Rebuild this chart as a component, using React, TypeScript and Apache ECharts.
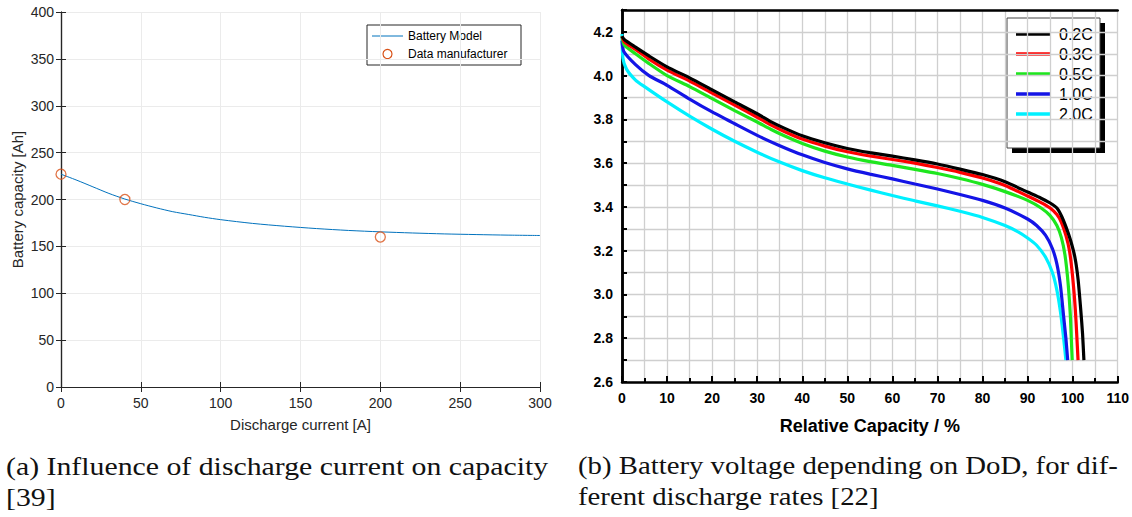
import React, { useEffect, useRef } from "react";
import * as echarts from "echarts";

// ---- (a) capacity vs discharge current ----
const currentA = [0, 10, 20, 30, 40, 50, 60, 70, 80, 90, 100, 120, 140, 160, 180, 200, 220, 240, 260, 280, 300];
const capacityModelAh = [227, 220.5, 213.5, 206.5, 200.5, 195.5, 191, 187, 184, 181, 178.5, 174.5, 171.5, 169, 167, 165.5, 164.3, 163.3, 162.6, 162, 161.6];
const mfrCurrentA = [0, 40, 200];
const mfrCapacityAh = [227, 200, 160];

// ---- (b) voltage vs relative capacity for several C-rates ----
const rateNames = ["0.2C", "0.3C", "0.5C", "1.0C", "2.0C"];
const rateColors = ["#000000", "#ff0000", "#1ee61e", "#1414e6", "#00f0ff"];

const curve02C: number[][] = [
  [0, 4.18], [0.5, 4.165], [3, 4.13], [6, 4.09], [10, 4.04], [15, 3.99], [20, 3.935], [25, 3.88],
  [30, 3.826], [33, 3.79], [36, 3.76], [40, 3.725], [45, 3.693], [50, 3.667], [55, 3.648], [60, 3.632],
  [65, 3.615], [70, 3.596], [75, 3.573], [80, 3.548], [85, 3.515], [90, 3.468], [93, 3.44], [95, 3.418],
  [96.5, 3.395], [97.5, 3.36], [98.5, 3.31], [99.5, 3.25], [100.5, 3.17], [101.2, 3.07], [101.8, 2.93],
  [102.2, 2.82], [102.5, 2.7],
];
const curve03C: number[][] = [
  [0, 4.18], [0.5, 4.155], [3, 4.12], [6, 4.075], [10, 4.025], [15, 3.975], [20, 3.92], [25, 3.865],
  [30, 3.81], [33, 3.775], [36, 3.745], [40, 3.71], [45, 3.678], [50, 3.652], [55, 3.633], [60, 3.617],
  [65, 3.6], [70, 3.58], [75, 3.558], [80, 3.532], [85, 3.498], [90, 3.45], [93, 3.42], [95, 3.395],
  [96.5, 3.365], [97.5, 3.33], [98.5, 3.27], [99.3, 3.2], [100, 3.08], [100.6, 2.93], [100.9, 2.82], [101.2, 2.7],
];
const curve05C: number[][] = [
  [0, 4.18], [0.5, 4.14], [3, 4.1], [6, 4.055], [10, 4.0], [15, 3.95], [20, 3.895], [25, 3.84],
  [30, 3.788], [33, 3.755], [36, 3.725], [40, 3.69], [45, 3.655], [50, 3.628], [55, 3.607], [60, 3.59],
  [65, 3.572], [70, 3.553], [75, 3.53], [80, 3.503], [85, 3.47], [90, 3.43], [93, 3.395], [95, 3.36],
  [96.5, 3.315], [97.5, 3.26], [98.3, 3.18], [99, 3.05], [99.5, 2.9], [99.7, 2.8], [99.9, 2.7],
];
const curve10C: number[][] = [
  [0, 4.16], [0.4, 4.11], [3, 4.05], [6, 4.0], [10, 3.956], [15, 3.893], [20, 3.834], [25, 3.78],
  [30, 3.727], [35, 3.68], [40, 3.638], [45, 3.603], [50, 3.574], [55, 3.55], [60, 3.528], [65, 3.505],
  [70, 3.482], [75, 3.457], [80, 3.43], [85, 3.395], [90, 3.345], [92, 3.315], [94, 3.27], [95.5, 3.21],
  [96.5, 3.14], [97.3, 3.04], [98, 2.9], [98.5, 2.8], [98.9, 2.7],
];
const curve20C: number[][] = [
  [0, 4.19], [0.2, 4.08], [1, 4.03], [3, 3.98], [5, 3.95], [10, 3.88], [15, 3.815], [20, 3.755],
  [25, 3.7], [30, 3.65], [35, 3.605], [40, 3.566], [45, 3.533], [50, 3.505], [55, 3.478], [60, 3.452],
  [65, 3.428], [70, 3.405], [75, 3.38], [80, 3.352], [85, 3.315], [88, 3.285], [90, 3.258], [92, 3.225],
  [94, 3.17], [95.5, 3.1], [96.5, 3.02], [97.3, 2.92], [98, 2.8], [98.5, 2.7],
];
const rateCurves = [curve02C, curve03C, curve05C, curve10C, curve20C];

// captions
const captionA = ["(a) Influence of discharge current on capacity", "[39]"];
const captionB = ["(b) Battery voltage depending on DoD, for dif-", "ferent discharge rates [22]"];

const SANS = "Liberation Sans";
const SERIF = "Liberation Serif";
const MATLAB_AXIS = "#262626";

function textScale(text: string, size: number, family: string, target: number): number {
  const ctx = document.createElement("canvas").getContext("2d");
  if (!ctx) return 1;
  ctx.font = `${size}px "${family}"`;
  const w = ctx.measureText(text).width;
  return w > 0 ? target / w : 1;
}

export default function App() {
  const ref = useRef<HTMLDivElement>(null);

  useEffect(() => {
    if (!ref.current) return;
    const chart = echarts.init(ref.current, undefined, { renderer: "svg" });

    const capSize = 25;
    const sA = textScale(captionA[0], capSize, SERIF, 542);
    const sB = textScale(captionB[0], capSize, SERIF, 540);

    const capText = (text: string, x: number, y: number, s: number) => ({
      type: "text",
      x,
      y,
      scaleX: s,
      style: {
        text,
        fontFamily: SERIF,
        fontSize: capSize,
        fill: "#111",
        align: "left",
        verticalAlign: "middle",
      },
    });

    const sansText = (text: string, x: number, y: number, size: number) => ({
      type: "text",
      x,
      y,
      style: { text, fontFamily: SANS, fontSize: size, fill: "#000", align: "left", verticalAlign: "middle" },
    });

    // left legend
    const legendA = [
      { type: "rect", shape: { x: 367, y: 25, width: 154, height: 40 }, style: { fill: "#fff", stroke: "#262626", lineWidth: 1 } },
      { type: "line", shape: { x1: 372, y1: 36, x2: 403, y2: 36 }, style: { stroke: "#0072BD", lineWidth: 1 } },
      { type: "circle", shape: { cx: 387.5, cy: 54, r: 4.5 }, style: { fill: "none", stroke: "#D95319", lineWidth: 1.2 } },
      sansText("Battery Model", 408, 36, 12),
      sansText("Data manufacturer", 408, 54, 12),
    ];

    // right legend with drop shadow
    const legendB: any[] = [
      { type: "rect", shape: { x: 1012, y: 23, width: 93, height: 130 }, style: { fill: "#000" } },
      { type: "rect", shape: { x: 1007, y: 18, width: 93, height: 130 }, style: { fill: "#fff", stroke: "#444", lineWidth: 1 } },
    ];
    rateNames.forEach((name, i) => {
      const y = 34 + i * 20;
      legendB.push({ type: "line", shape: { x1: 1016, y1: y, x2: 1050, y2: y }, style: { stroke: rateColors[i], lineWidth: 3.5 } });
      legendB.push(sansText(name, 1059, y, 16));
    });

    const rightGridLine = { lineStyle: { color: "#cfcfcf", width: 1.3 } };

    chart.setOption({
      animation: false,
      backgroundColor: "#ffffff",
      grid: [
        { left: 61, top: 12, width: 479, height: 375 },
        { left: 622, top: 10, width: 497, height: 372 },
      ],
      xAxis: [
        {
          gridIndex: 0, type: "value", min: 0, max: 300, interval: 50, position: "bottom",
          axisLine: { lineStyle: { color: MATLAB_AXIS, width: 1.2 } },
          axisTick: { inside: true, length: 5, lineStyle: { color: MATLAB_AXIS } },
          axisLabel: { color: MATLAB_AXIS, fontFamily: SANS, fontSize: 14, margin: 9 },
          splitLine: { lineStyle: { color: "#ebebeb", width: 1 } },
          name: "Discharge current [A]", nameLocation: "middle", nameGap: 30,
          nameTextStyle: { color: MATLAB_AXIS, fontFamily: SANS, fontSize: 15 },
        },
        {
          gridIndex: 0, type: "value", min: 0, max: 300, interval: 50, position: "top",
          axisLine: { lineStyle: { color: MATLAB_AXIS, width: 1.2 } },
          axisTick: { inside: true, length: 5, lineStyle: { color: MATLAB_AXIS } },
          axisLabel: { show: false }, splitLine: { show: false },
        },
        {
          gridIndex: 1, type: "value", min: 0, max: 110, interval: 10, position: "bottom",
          axisLine: { lineStyle: { color: "#000", width: 2.5 } },
          axisTick: { inside: true, length: 6, lineStyle: { color: "#000", width: 2 } },
          minorTick: { show: true, splitNumber: 2, length: 4, lineStyle: { color: "#000", width: 2 } },
          axisLabel: { color: "#000", fontFamily: SANS, fontWeight: "bold", fontSize: 14, margin: 9 },
          splitLine: rightGridLine,
          minorSplitLine: { show: true, ...rightGridLine },
          name: "Relative Capacity / %", nameLocation: "middle", nameGap: 35,
          nameTextStyle: { color: "#000", fontFamily: SANS, fontWeight: "bold", fontSize: 18 },
        },
        {
          gridIndex: 1, type: "value", min: 0, max: 110, interval: 10, position: "top",
          axisLine: { lineStyle: { color: "#000", width: 2.5 } },
          axisTick: { show: false }, axisLabel: { show: false }, splitLine: { show: false },
        },
      ],
      yAxis: [
        {
          gridIndex: 0, type: "value", min: 0, max: 400, interval: 50, position: "left",
          axisLine: { show: true, lineStyle: { color: MATLAB_AXIS, width: 1.2 } },
          axisTick: { show: true, inside: true, length: 5, lineStyle: { color: MATLAB_AXIS } },
          axisLabel: { color: MATLAB_AXIS, fontFamily: SANS, fontSize: 14, margin: 7 },
          splitLine: { lineStyle: { color: "#ebebeb", width: 1 } },
          name: "Battery capacity [Ah]", nameLocation: "middle", nameGap: 36,
          nameTextStyle: { color: MATLAB_AXIS, fontFamily: SANS, fontSize: 15 },
        },
        {
          gridIndex: 0, type: "value", min: 0, max: 400, interval: 50, position: "right",
          axisLine: { show: true, lineStyle: { color: MATLAB_AXIS, width: 1.2 } },
          axisTick: { show: true, inside: true, length: 5, lineStyle: { color: MATLAB_AXIS } },
          axisLabel: { show: false }, splitLine: { show: false },
        },
        {
          gridIndex: 1, type: "value", min: 2.6, max: 4.3, interval: 0.1, position: "left",
          axisLine: { show: true, lineStyle: { color: "#000", width: 2.5 } },
          axisTick: { show: true, inside: true, length: 5, lineStyle: { color: "#000", width: 2 } },
          axisLabel: {
            color: "#000", fontFamily: SANS, fontWeight: "bold", fontSize: 14, margin: 9,
            formatter: (v: number) => {
              const n = Math.round(v * 10);
              return n % 2 === 0 && n <= 42 ? (n / 10).toFixed(1) : "";
            },
          },
          splitLine: rightGridLine,
        },
        {
          gridIndex: 1, type: "value", min: 2.6, max: 4.3, interval: 0.1, position: "right",
          axisLine: { show: true, lineStyle: { color: "#000", width: 2.5 } },
          axisTick: { show: false }, axisLabel: { show: false }, splitLine: { show: false },
        },
      ],
      series: [
        {
          type: "line", name: "Battery Model", xAxisIndex: 0, yAxisIndex: 0,
          data: currentA.map((x, i) => [x, capacityModelAh[i]]),
          showSymbol: false, symbol: "none", smooth: 0.3,
          lineStyle: { color: "#0072BD", width: 1 },
        },
        {
          type: "scatter", name: "Data manufacturer", xAxisIndex: 0, yAxisIndex: 0,
          data: mfrCurrentA.map((x, i) => [x, mfrCapacityAh[i]]),
          symbol: "circle", symbolSize: 10,
          itemStyle: { color: "rgba(0,0,0,0)", borderColor: "#D95319", borderWidth: 1.3 },
          z: 5,
        },
        ...rateCurves.map((pts, i) => ({
          type: "line", name: rateNames[i], xAxisIndex: 2, yAxisIndex: 2,
          data: pts, showSymbol: false, symbol: "none", smooth: 0.2,
          lineStyle: { color: rateColors[i], width: 3.2 },
          z: 10 - i,
        })),
      ],
      graphic: [
        ...legendA,
        ...legendB,
        capText(captionA[0], 6, 466, sA),
        capText(captionA[1], 6, 497, sA),
        capText(captionB[0], 578, 466, sB),
        capText(captionB[1], 578, 497, sB),
      ],
    });

    return () => chart.dispose();
  }, []);

  return (
    <div
      ref={ref}
      style={{ position: "absolute", left: 0, top: 0, width: 1132, height: 517, background: "#fff" }}
    />
  );
}
